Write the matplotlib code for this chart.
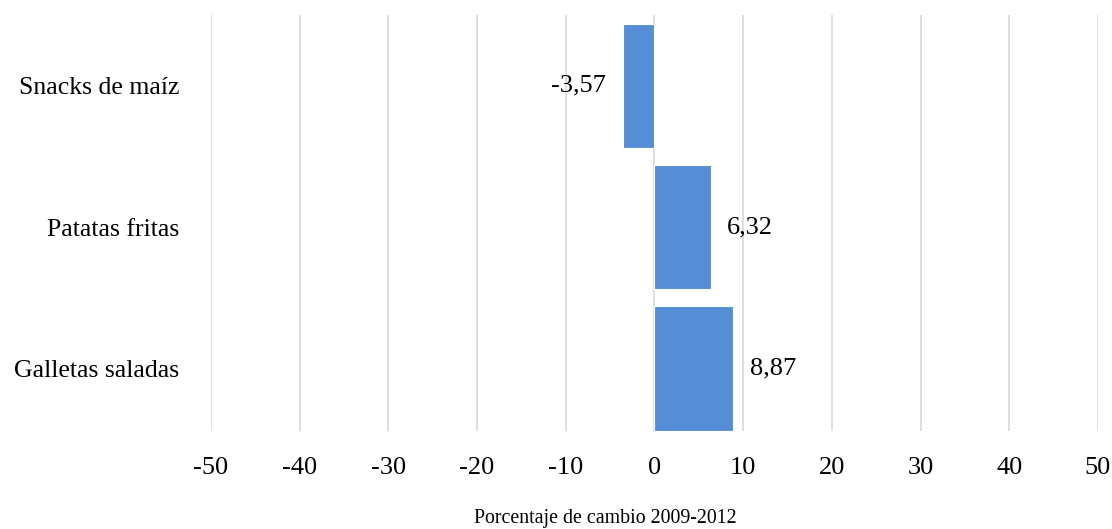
import matplotlib.pyplot as plt

# Data
categories = ['Galletas saladas', 'Patatas fritas', 'Snacks de maíz']
values = [8.87, 6.32, -3.57]
xticks = [-50, -40, -30, -20, -10, 0, 10, 20, 30, 40, 50]

plt.rcParams['font.family'] = ['Liberation Serif', 'DejaVu Serif']

fig = plt.figure(figsize=(11.12, 5.29), dpi=100)
ax = fig.add_axes([0.1897, 0.1853, 0.7977, 0.7863])

pos = list(range(len(categories)))
bars = ax.barh(pos, values, height=0.88, color='#558ED5', edgecolor='white', linewidth=0.8, zorder=2)

# data labels with decimal comma
for b, v in zip(bars, values):
    txt = f'{v:.2f}'.replace('.', ',')
    if v < 0:
        ax.annotate(txt, (v, b.get_y() + b.get_height() / 2), xytext=(-12, 0),
                    textcoords='offset points', ha='right', va='center', fontsize=19)
    else:
        ax.annotate(txt, (v, b.get_y() + b.get_height() / 2), xytext=(12, 0),
                    textcoords='offset points', ha='left', va='center', fontsize=19)

ax.set_xlim(-50, 50)
ax.set_ylim(-0.44, 2.5)
ax.set_xticks(xticks)
ax.set_xticklabels([str(t) for t in xticks])
ax.set_yticks(pos)
ax.set_yticklabels(categories)
ax.tick_params(axis='x', length=0, labelsize=19, pad=19)
ax.tick_params(axis='y', length=0, labelsize=18.5, pad=23)

ax.grid(axis='x', color='#D9D9D9', linewidth=1.2, zorder=0)
ax.set_axisbelow(True)
for s in ax.spines.values():
    s.set_visible(False)

fig.text(605 / 1112, 1 - 518 / 529, 'Porcentaje de cambio 2009-2012', fontsize=14.3,
         ha='center', va='center')

fig.savefig('out.png', dpi=100)
